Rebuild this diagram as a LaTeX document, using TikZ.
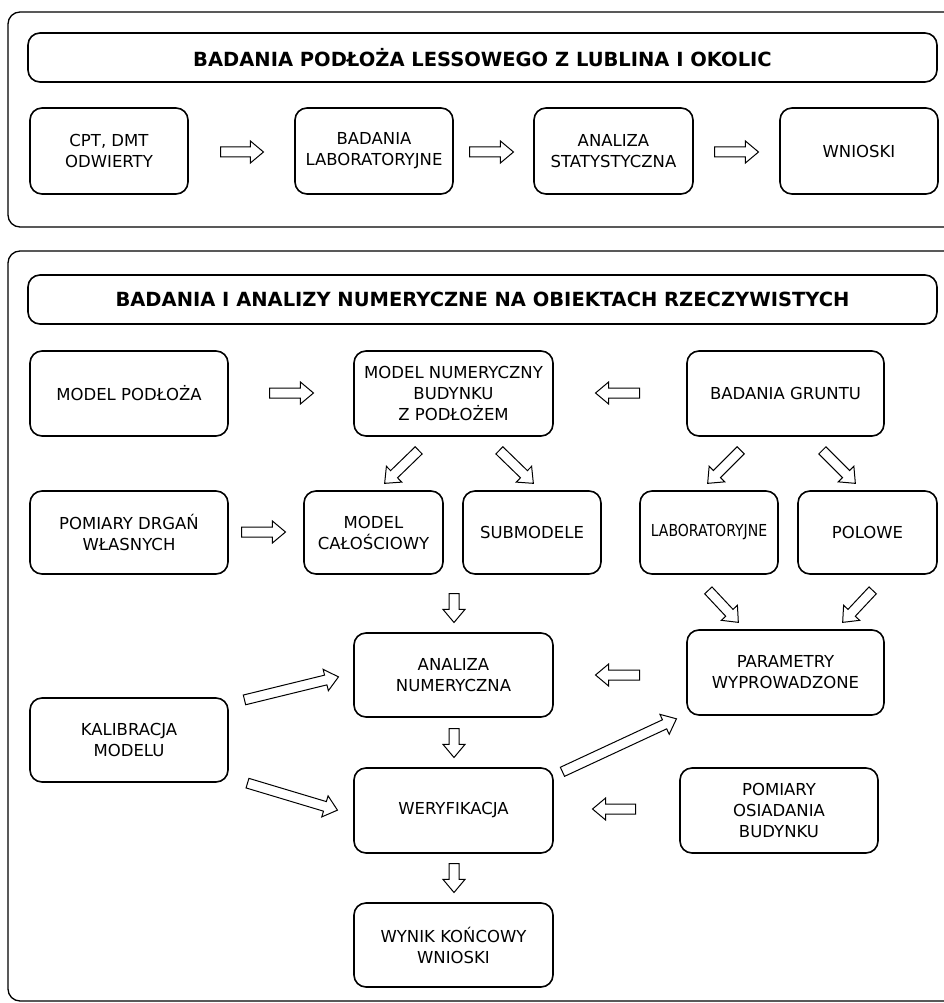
\documentclass[tikz,border=0pt]{standalone}
\usepackage{fontspec}
\setmainfont{DejaVu Sans}
\usetikzlibrary{shapes.arrows,calc}
\tikzset{
  box/.style={draw, line width=1.6pt, rounded corners=12pt, align=center,
    font=\fontsize{16.5}{21}\selectfont, inner sep=0pt},
  frame/.style={draw, line width=1.3pt, rounded corners=12pt},
  titlebox/.style={box, font=\fontsize{19.5}{23}\selectfont\bfseries},
  blockarrow/.style={draw, line width=1pt, single arrow, single arrow head extend=6pt,
    single arrow tip angle=80, inner xsep=0pt, inner ysep=4.5pt, minimum width=0pt, anchor=tail},
}
\newcommand\barrow[2]{\path let \p1=#1, \p2=#2,
  \n1={atan2(\y2-\y1,\x2-\x1)}, \n2={veclen(\x2-\x1,\y2-\y1)} in
  node[blockarrow, minimum height=\n2, rotate=\n1] at (\p1) {};}
\begin{document}
\begin{tikzpicture}[x=1pt, y=-1pt]
\useasboundingbox (0,0) rectangle (944,1003);
% outer frames
\draw[frame] (8,12) rectangle (960,227);
\draw[frame] (8,251) rectangle (960,1001);
% part 1
\node[titlebox, minimum width=909pt, minimum height=49pt] (t1) at (482.5,57.5)
  {BADANIA PODŁOŻA LESSOWEGO Z LUBLINA I OKOLIC};
\node[box, minimum width=158pt, minimum height=86pt] (cpt) at (109,151) {CPT, DMT\\ODWIERTY};
\node[box, minimum width=158pt, minimum height=86pt] (blab) at (374,151) {BADANIA\\LABORATORYJNE};
\node[box, minimum width=159pt, minimum height=86pt] (anst) at (613.5,151) {ANALIZA\\STATYSTYCZNA};
\node[box, minimum width=158pt, minimum height=86pt] (wn1) at (859,151) {WNIOSKI};
\barrow{(220,152)}{(263,152)}
\barrow{(469,152)}{(513,152)}
\barrow{(714,152)}{(758,152)}
% part 2
\node[titlebox, minimum width=909pt, minimum height=49pt] (t2) at (482.5,299.5)
  {BADANIA I ANALIZY NUMERYCZNE NA OBIEKTACH RZECZYWISTYCH};
\node[box, minimum width=198pt, minimum height=85pt] (mpod) at (129,393.5) {MODEL PODŁOŻA};
\node[box, minimum width=199pt, minimum height=85pt] (mnum) at (453.5,393.5) {MODEL NUMERYCZNY\\BUDYNKU\\Z PODŁOŻEM};
\node[box, minimum width=197pt, minimum height=85pt] (bgr) at (785.5,393.5) {BADANIA GRUNTU};
\node[box, minimum width=198pt, minimum height=83pt] (pdrg) at (129,532.5) {POMIARY DRGAŃ\\WŁASNYCH};
\node[box, minimum width=139pt, minimum height=83pt] (mcal) at (373.5,532.5) {MODEL\\CAŁOŚCIOWY};
\node[box, minimum width=138pt, minimum height=83pt] (subm) at (532,532.5) {SUBMODELE};
\node[box, minimum width=138pt, minimum height=83pt] (lab) at (709,532.5) {\scalebox{0.85}[1]{LABORATORYJNE}};
\node[box, minimum width=139pt, minimum height=83pt] (pol) at (867.5,532.5) {POLOWE};
\node[box, minimum width=199pt, minimum height=84pt] (anum) at (453.5,675) {ANALIZA\\NUMERYCZNA};
\node[box, minimum width=197pt, minimum height=85pt] (par) at (785.5,672.5) {PARAMETRY\\WYPROWADZONE};
\node[box, minimum width=198pt, minimum height=84pt] (kal) at (129,740) {KALIBRACJA\\MODELU};
\node[box, minimum width=199pt, minimum height=85pt] (wer) at (453.5,810.5) {WERYFIKACJA};
\node[box, minimum width=198pt, minimum height=85pt] (pos) at (779,810.5) {POMIARY\\OSIADANIA\\BUDYNKU};
\node[box, minimum width=199pt, minimum height=84pt] (wyn) at (453.5,945) {WYNIK KOŃCOWY\\WNIOSKI};
% arrows
\barrow{(269,393)}{(313,393)}
\barrow{(640,393)}{(596,393)}
\barrow{(419,450)}{(385,483)}
\barrow{(499,450)}{(533,483)}
\barrow{(741,450)}{(708,483)}
\barrow{(822,450)}{(855,483)}
\barrow{(241,532)}{(285,532)}
\barrow{(454,593)}{(454,622)}
\barrow{(708,590)}{(738,622)}
\barrow{(873,590)}{(843,622)}
\barrow{(640,675)}{(596,675)}
\barrow{(244,700)}{(338,677)}
\barrow{(247,783)}{(337,810)}
\barrow{(454,728)}{(454,757)}
\barrow{(562,772)}{(676,719)}
\barrow{(636,809)}{(593,809)}
\barrow{(454,863)}{(454,892)}
\end{tikzpicture}
\end{document}
